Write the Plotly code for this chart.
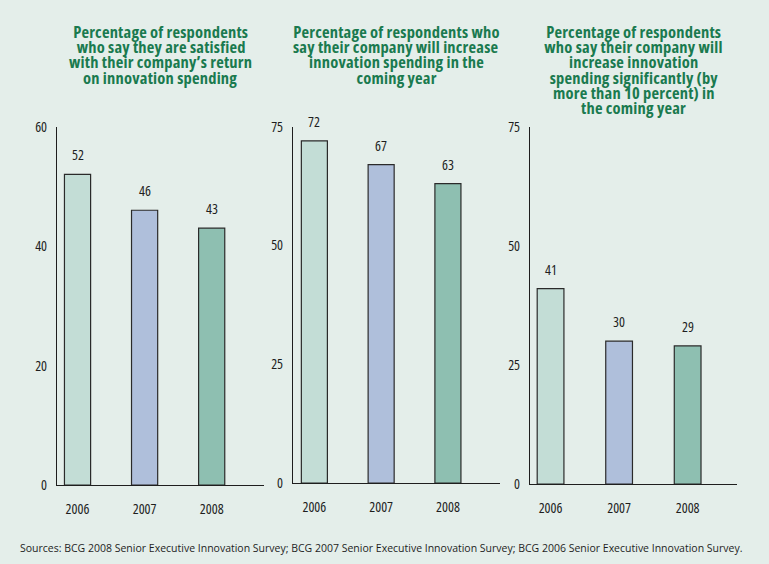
import plotly.graph_objects as go

years = ["2006", "2007", "2008"]
satisfied = [52, 46, 43]
increase = [72, 67, 63]
increase_sig = [41, 30, 29]
bar_colors = ["#c3ddd6", "#afbfdb", "#8ebfb1"]

titles = [
    ["Percentage of respondents", "who say they are satisfied",
     "with their company\u2019s return", "on innovation spending"],
    ["Percentage of respondents who", "say their company will increase",
     "innovation spending in the", "coming year"],
    ["Percentage of respondents", "who say their company will",
     "increase innovation", "spending significantly (by",
     "more than 10 percent) in", "the coming year"],
]
yticks = [[0, 20, 40, 60], [0, 25, 50, 75], [0, 25, 50, 75]]
ymax = [60, 75, 75]
source = ("Sources: BCG 2008 Senior Executive Innovation Survey; BCG 2007 Senior "
          "Executive Innovation Survey; BCG 2006 Senior Executive Innovation Survey.")

W, H = 769, 564
FONT = "Open Sans, Roboto, sans-serif"
GREEN = "#1a7a4f"
DARK = "#1e1e1e"
BG = "#e4eeea"
TITLE_SIZE, TICK_SIZE, SOURCE_SIZE = 16.5, 14, 10.5

# the photographed page maps figure y to 8.25 + 0.9675*y; compensate
SY, OY = 0.9675, 8.25


def py(y):
    return (y - OY) / SY


def fy(y):
    return 1 - py(y) / H


panels = [
    (57, 264, 125, 484, [-0.306, 2.78]),
    (293, 500, 125, 482, [-0.32, 2.78]),
    (530, 737, 125, 483, [-0.30, 2.72]),
]
data = [satisfied, increase, increase_sig]


def f(size, color=DARK):
    return dict(family=FONT, size=size, color=color)


fig = go.Figure()
annotations = []
for i, (vals, (x0, x1, yt, yb, xr)) in enumerate(zip(data, panels)):
    n = "" if i == 0 else str(i + 1)
    fig.add_trace(go.Bar(
        x=years, y=vals, xaxis="x" + n, yaxis="y" + n,
        marker=dict(color=bar_colors, line=dict(color="#2a2a2a", width=1.2)),
        width=0.39, showlegend=False, hoverinfo="x+y",
    ))
    fig.update_layout(**{
        "xaxis" + n: dict(
            domain=[x0 / W, x1 / W], anchor="y" + n, type="category",
            range=xr, showline=True, linecolor=DARK, linewidth=1.3,
            showgrid=False, zeroline=False, ticks="", ticklabelstandoff=11,
            tickfont=f(TICK_SIZE), fixedrange=True,
        ),
        "yaxis" + n: dict(
            domain=[fy(yb), fy(yt)], anchor="x" + n,
            range=[0, ymax[i]], tickvals=yticks[i], showline=True,
            linecolor=DARK, linewidth=1.3, showgrid=False, zeroline=False,
            ticks="", ticklabelstandoff=6, tickfont=f(TICK_SIZE),
            fixedrange=True,
        ),
    })
    for k, v in enumerate(vals):
        annotations.append(dict(
            x=k, y=v, xref="x" + n, yref="y" + n, text=str(v),
            showarrow=False, yanchor="middle", yshift=19.5, font=f(TICK_SIZE),
        ))
    cx = (x0 + x1) / 2 / W
    ys = [30, 45, 60, 75.5, 91, 106]
    for j, line in enumerate(titles[i]):
        annotations.append(dict(
            x=cx, y=fy(ys[j]), xref="paper", yref="paper",
            text="<b>" + line + "</b>", showarrow=False,
            xanchor="center", yanchor="middle", font=f(TITLE_SIZE, GREEN),
        ))

annotations.append(dict(
    x=18 / W, y=fy(547), xref="paper", yref="paper", text=source,
    showarrow=False, xanchor="left", yanchor="middle", align="left",
    font=f(SOURCE_SIZE),
))

fig.update_layout(
    width=W, height=H, margin=dict(l=0, r=0, t=0, b=0),
    paper_bgcolor=BG, plot_bgcolor="rgba(0,0,0,0)",
    annotations=annotations, bargap=0.6,
)
fig.write_html(
    "out.html",
    config={"displayModeBar": False},
    post_script=(
        "document.body.style.margin='0';document.body.style.overflow='hidden';"
        "document.body.style.background='" + BG + "';"
        "document.documentElement.style.background='" + BG + "';"
        "function cond(){document.querySelectorAll('text').forEach(function(t){"
        "var fs=parseFloat(t.style.fontSize);"
        "t.style.fontStretch = fs>=13 ? '75%' : '100%';"
        "if(fs>=15){t.style.letterSpacing='0.2px';}});}"
        "cond();var gd=document.getElementById('{plot_id}');"
        "gd.on('plotly_afterplot',cond);"
    ),
)
